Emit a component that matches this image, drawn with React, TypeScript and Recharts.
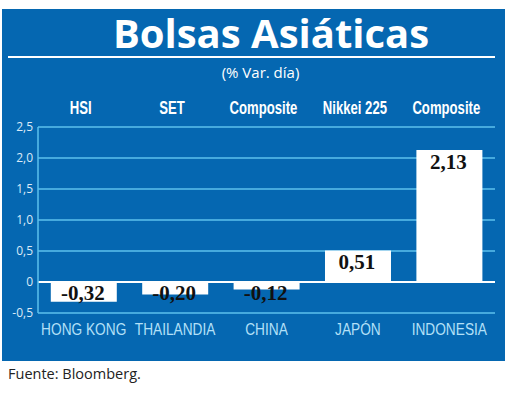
import React from "react";
import {
  BarChart,
  Bar,
  XAxis,
  YAxis,
  CartesianGrid,
  ReferenceLine,
  LabelList,
} from "recharts";

const countries = ["HONG KONG", "THAILANDIA", "CHINA", "JAPÓN", "INDONESIA"];
const indices = ["HSI", "SET", "Composite", "Nikkei 225", "Composite"];
const changes = [-0.32, -0.2, -0.12, 0.51, 2.13];
const yTicks = [-0.5, 0, 0.5, 1.0, 1.5, 2.0, 2.5];

const data = countries.map((c, i) => ({ country: c, index: indices[i], value: changes[i] }));

const BLUE = "#0567b1";
const GRID = "#5cc0ee";

const fmt = (v: number) => (v === 0 ? "0" : v.toFixed(1).replace(".", ","));
const fmtVal = (v: number) => v.toFixed(2).replace(".", ",");

const TopTick = (props: any) => {
  const { x, payload } = props;
  return (
    <text
      transform={`translate(${x - 3},114) scale(0.71,1)`}
      x={0}
      y={0}
      textAnchor="middle"
      fill="#ffffff"
      fontFamily="'Liberation Sans', Arial, sans-serif"
      fontWeight="bold"
      fontSize={18.5}
    >
      {payload.value}
    </text>
  );
};

const BottomTick = (props: any) => {
  const { x, payload } = props;
  return (
    <text
      transform={`translate(${x},335) scale(0.83,1)`}
      x={0}
      y={0}
      textAnchor="middle"
      fill="#b3e0f8"
      fontFamily="'Liberation Sans', Arial, sans-serif"
      fontSize={16.5}
    >
      {payload.value}
    </text>
  );
};

const ValueLabel = (props: any) => {
  const { x, y, width, height, value } = props;
  const top = Math.min(y, y + height);
  const center = value < 0 ? top + 11 : top + 12;
  return (
    <text
      x={x + width / 2 - 1}
      y={center + 7}
      textAnchor="middle"
      fill="#111111"
      fontFamily="'Liberation Serif', 'DejaVu Serif', serif"
      fontWeight="bold"
      fontSize={21}
    >
      {fmtVal(value)}
    </text>
  );
};

export default function App() {
  return (
    <div style={{ position: "absolute", left: 0, top: 0, width: 520, height: 394, background: "#ffffff" }}>
      <div style={{ position: "absolute", left: 2, top: 9, width: 503, height: 352, background: BLUE }} />
      <div
        style={{
          position: "absolute",
          left: 0,
          width: 542,
          top: 8,
          textAlign: "center",
          color: "#ffffff",
          fontFamily: "'Open Sans', sans-serif",
          fontWeight: 700,
          fontSize: 40,
          lineHeight: "50px",
        }}
      >
        Bolsas Asiáticas
      </div>
      <div style={{ position: "absolute", left: 8, top: 56, width: 487, height: 2, background: "#ffffff" }} />
      <div
        style={{
          position: "absolute",
          left: 0,
          width: 521,
          top: 62,
          textAlign: "center",
          color: "#ffffff",
          fontFamily: "'Open Sans', sans-serif",
          fontSize: 15,
          lineHeight: "20px",
        }}
      >
        (% Var. día)
      </div>
      <div
        style={{
          position: "absolute",
          left: 8,
          top: 364,
          color: "#222222",
          fontFamily: "'Open Sans', sans-serif",
          fontSize: 14.5,
          lineHeight: "20px",
        }}
      >
        Fuente: Bloomberg.
      </div>
      <div style={{ position: "absolute", left: 0, top: 0 }}>
        <BarChart
          width={520}
          height={394}
          data={data}
          margin={{ top: 97, right: 25, bottom: 51, left: 8 }}
          barCategoryGap="14%"
        >
          <CartesianGrid vertical={false} stroke={GRID} strokeWidth={1.5} />
          <XAxis
            dataKey="country"
            xAxisId="bottom"
            orientation="bottom"
            height={30}
            tickLine={false}
            axisLine={false}
            interval={0}
            tick={<BottomTick />}
          />
          <XAxis
            dataKey="index"
            xAxisId="top"
            orientation="top"
            height={30}
            tickLine={false}
            axisLine={false}
            interval={0}
            tick={<TopTick />}
          />
          <YAxis
            width={30}
            domain={[-0.5, 2.5]}
            ticks={yTicks}
            interval={0}
            tickFormatter={fmt}
            tickLine={false}
            tickSize={0}
            tickMargin={5}
            axisLine={{ stroke: GRID, strokeWidth: 1.5 }}
            tick={{ fill: "#dbeaf7", fontSize: 12, fontFamily: "'Open Sans', sans-serif" }}
          />
          <ReferenceLine y={0} xAxisId="bottom" stroke="#ffffff" strokeWidth={2} />
          <Bar dataKey="value" xAxisId="bottom" fill="#ffffff" isAnimationActive={false}>
            <LabelList dataKey="value" content={<ValueLabel />} />
          </Bar>
        </BarChart>
      </div>
    </div>
  );
}
